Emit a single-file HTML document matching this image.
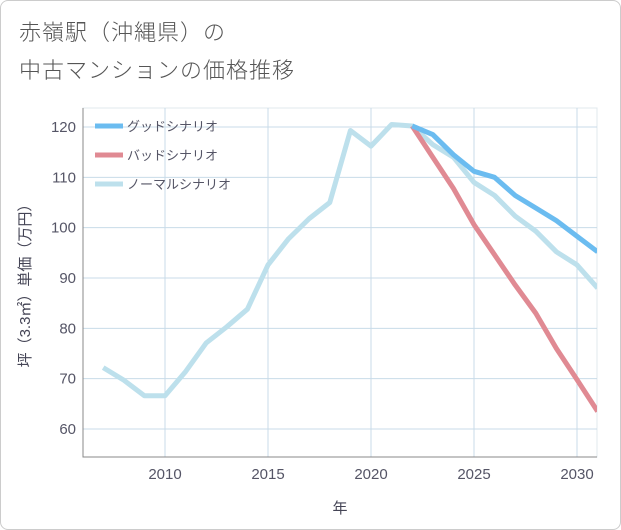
<!DOCTYPE html>
<html><head><meta charset="utf-8"><style>
body{margin:0;background:#fff;font-family:"Liberation Sans","Noto Sans CJK JP",sans-serif;}
#wrap{position:relative;width:619px;height:528px;border:1px solid #ccc;border-radius:8px;overflow:hidden;background:#fff}
.title{position:absolute;left:18px;font-size:22px;color:#555;letter-spacing:1px;font-family:"Noto Sans CJK JP",sans-serif;font-weight:300;line-height:1}
</style></head><body>
<div id="wrap">
<div class="title" style="top:19px">赤嶺駅（沖縄県）の</div>
<div class="title" style="top:57px">中古マンションの価格推移</div>
<svg id="svg" width="621" height="530" style="position:absolute;left:-1px;top:-1px"></svg>
</div>
<script>
const years=[2007,2008,2009,2010,2011,2012,2013,2014,2015,2016,2017,2018,2019,2020,2021,2022,2023,2024,2025,2026,2027,2028,2029,2030,2031];
const normalVals=[72.2,69.7,66.6,66.6,71.4,77.1,80.3,83.8,92.6,97.8,101.8,105,119.3,116.2,120.5,120.2,116.5,114,109,106.4,102.3,99.3,95.2,92.6,88];
const goodYears=[2022,2023,2024,2025,2026,2027,2028,2029,2030,2031];
const goodVals=[120.2,118.5,114.5,111.2,110,106.4,103.9,101.4,98.3,95.2];
const badVals=[120.2,114,107.8,100.6,94.6,88.6,83,76,69.8,63.5];
const xTicks=[2010,2015,2020,2025,2030];
const yTicks=[60,70,80,90,100,110,120];
const legendLabels=["グッドシナリオ","バッドシナリオ","ノーマルシナリオ"];
const legendColors=["#6bbcf0","#e08a93","#bde0ec"];
const NS="http://www.w3.org/2000/svg";
const svg=document.getElementById('svg');
const L=83,R=597,T=108,B=457;
const x=v=>165+(v-2010)*20.6;
const y=v=>127+(120-v)*5.033;
function mk(t,a,p){const e=document.createElementNS(NS,t);for(const k in a)e.setAttribute(k,a[k]);(p||svg).appendChild(e);return e;}
const bg=mk('rect',{x:L,y:T,width:R-L,height:B-T,fill:'#fff',stroke:'#e0e8ee'});

xTicks.forEach(t=>{const g=mk('line',{x1:x(t),x2:x(t),y1:T,y2:B,stroke:'#c8dbe8','stroke-width':1});
});
yTicks.forEach(t=>{const g=mk('line',{x1:L,x2:R,y1:y(t),y2:y(t),stroke:'#c8dbe8'});
});
const ax=mk('polyline',{points:`${L},${T} ${L},${B} ${R},${B}`,fill:'none',stroke:'#888','stroke-width':1});

xTicks.forEach(t=>{const e=mk('text',{x:x(t),y:479,'text-anchor':'middle','font-size':15,fill:'#556'});e.textContent=t;
});
yTicks.forEach(t=>{const e=mk('text',{x:76,y:y(t)+5,'text-anchor':'end','font-size':15,fill:'#556'});e.textContent=t;
});
const xt=mk('text',{x:340,y:513,'text-anchor':'middle','font-size':15,fill:'#445'});xt.textContent='年';

const yt=mk('text',{x:0,y:0,transform:'translate(30,282) rotate(-90)','text-anchor':'middle','font-size':15,fill:'#445'});yt.textContent='坪（3.3㎡）単価（万円）';

const clip=mk('clipPath',{id:'c'});mk('rect',{x:L,y:T,width:R-L,height:B-T},clip);
function line(xs,vs,col,name){const p=mk('polyline',{points:xs.map((yr,i)=>x(yr)+','+y(vs[i])).join(' '),fill:'none',stroke:col,'stroke-width':5,'stroke-linejoin':'round','clip-path':'url(#c)'});
}
line(years,normalVals,legendColors[2],'normal-scenario-line');
line(goodYears,badVals,legendColors[1],'bad-scenario-line');
line(goodYears,goodVals,legendColors[0],'good-scenario-line');
legendLabels.forEach((lb,i)=>{const yy=126+i*29;
const l=mk('line',{x1:95,x2:123,y1:yy,y2:yy,stroke:legendColors[i],'stroke-width':5});

const t=mk('text',{x:127,y:yy+5,'font-size':13,fill:'#556'});t.textContent=lb;
});
</script>
</body></html>
